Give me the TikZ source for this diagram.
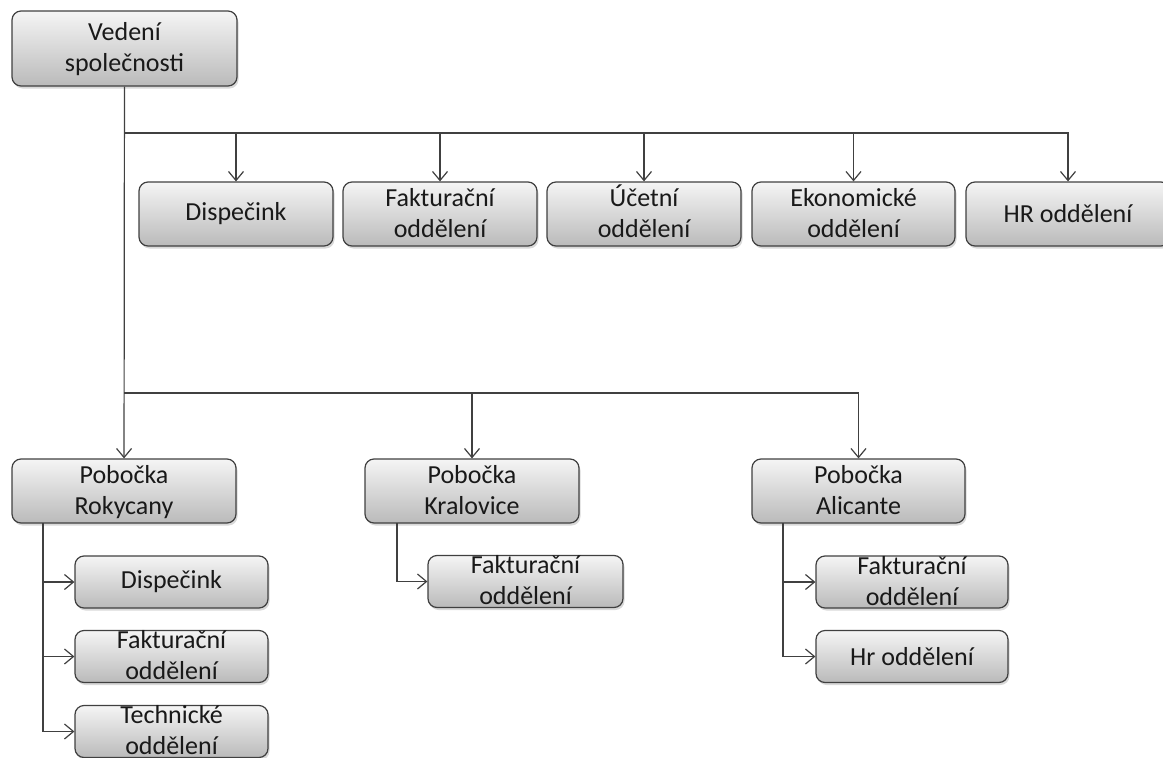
\documentclass[tikz,border=0pt]{standalone}
\usepackage{fontspec}
\setmainfont{Carlito}
\usetikzlibrary{arrows.meta,shadows}
\newcommand{\dvar}[2]{\smash{\raisebox{-8pt}{\begin{tabular}{@{}c@{}}#1\\#2\end{tabular}}}}

\begin{document}
\begin{tikzpicture}[x=1pt,y=-1pt,
    box/.style={draw=black!75,line width=1.2pt,rounded corners=9pt,
      top color=black!4,bottom color=black!27,
      drop shadow={shadow xshift=1.5pt,shadow yshift=-2.5pt,opacity=0.3},
      inner sep=0pt,font=\fontsize{26}{31}\selectfont,text=black!90},
    conn/.style={draw=black!75,line width=1.2pt,-{Straight Barb[length=9pt,width=15pt,line width=1.2pt]}},
    bus/.style={draw=black!75,line width=1.2pt}]
    \useasboundingbox (0,0) rectangle (1163,758);

    \node[box,minimum width=225,minimum height=75] (ved) at (124.5,48.5) {\dvar{Vedení}{společnosti}};

    \node[box,minimum width=194,minimum height=64] (disp) at (236,214) {Dispečink};
    \node[box,minimum width=194,minimum height=64] (fak) at (440,214) {\dvar{Fakturační}{oddělení}};
    \node[box,minimum width=194,minimum height=64] (uce) at (644,214) {\dvar{Účetní}{oddělení}};
    \node[box,minimum width=203,minimum height=64] (eko) at (853.5,214) {\dvar{Ekonomické}{oddělení}};
    \node[box,minimum width=204,minimum height=64] (hr) at (1068,214) {HR oddělení};

    \node[box,minimum width=224,minimum height=64] (pobR) at (124,491) {\dvar{Pobočka}{Rokycany}};
    \node[box,minimum width=214,minimum height=64] (pobK) at (472,491) {\dvar{Pobočka}{Kralovice}};
    \node[box,minimum width=213,minimum height=64] (pobA) at (858.5,491) {\dvar{Pobočka}{Alicante}};

    \node[box,minimum width=193,minimum height=52] (rDisp) at (171.5,582) {Dispečink};
    \node[box,minimum width=193,minimum height=52] (rFak) at (171.5,656.5) {\dvar{Fakturační}{oddělení}};
    \node[box,minimum width=193,minimum height=52] (rTech) at (171.5,731.5) {\dvar{Technické}{oddělení}};
    \node[box,minimum width=195,minimum height=52] (kFak) at (525.5,581.5) {\dvar{Fakturační}{oddělení}};
    \node[box,minimum width=192,minimum height=52] (aFak) at (912,582) {\dvar{Fakturační}{oddělení}};
    \node[box,minimum width=192,minimum height=52] (aHr) at (912,656.5) {Hr oddělení};

    \coordinate (busT) at (124,133);
    \coordinate (busB) at (124,393);
    \coordinate (r0) at (43,523);
    \coordinate (k0) at (397,523);
    \coordinate (a0) at (783,523);

    % vedeni
    \path[conn] (ved) edge (pobR);
    \draw[bus] (busT) -- (busT -| hr);
    \draw[bus] (busB) -- (busB -| pobA);
    \draw[conn] (busT) -| (disp);
    \draw[conn] (busT) -| (fak);
    \draw[conn] (busT) -| (uce);
    \draw[conn] (busT) -| (eko);
    \draw[conn] (busT) -| (hr);
    \draw[conn] (busB) -| (pobK);
    \draw[conn] (busB) -| (pobA);

    % pobocky
    \draw[conn] (r0) |- (rDisp);
    \draw[conn] (r0) |- (rFak);
    \draw[conn] (r0) |- (rTech);
    \draw[conn] (k0) |- (kFak);
    \draw[conn] (a0) |- (aFak);
    \draw[conn] (a0) |- (aHr);
\end{tikzpicture}
\end{document}
